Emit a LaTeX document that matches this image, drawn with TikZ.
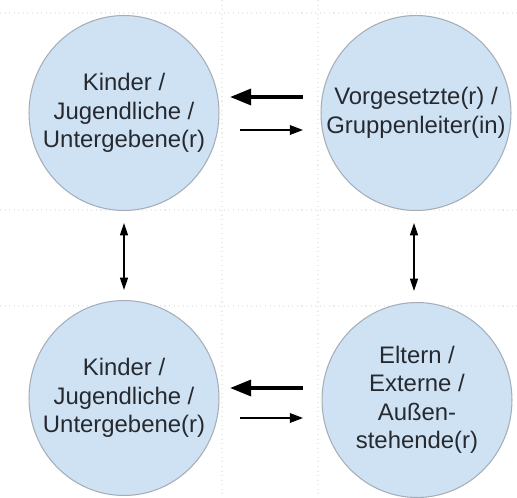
\documentclass[tikz,border=0pt]{standalone}
\usepackage{fontspec}
\setmainfont{Liberation Sans}
\usetikzlibrary{shapes.geometric,arrows.meta}
\definecolor{rolefill}{RGB}{207,226,243}
\definecolor{roleline}{RGB}{165,174,184}
\definecolor{roletext}{RGB}{38,42,48}
\definecolor{gridgray}{RGB}{234,234,234}
\begin{document}
\begin{tikzpicture}[x=0.02cm,y=0.02cm]
\tikzstyle{role}=[ellipse,draw=roleline,fill=rolefill,line width=0.6pt,minimum width=3.8cm,minimum height=3.9cm,inner sep=-0.7cm,align=center,text=roletext,font=\fontsize{13.6}{16.2}\selectfont]
\tikzstyle{strongflow}=[line width=2.2pt,-{Triangle[length=12pt,width=9pt]}]
\tikzstyle{weakflow}=[line width=0.75pt,-{Triangle[length=7.5pt,width=5.5pt]}]
\tikzstyle{link}=[line width=0.75pt,{Triangle[length=7pt,width=4.5pt]}-{Triangle[length=7pt,width=4.5pt]}]
\useasboundingbox (0,0) rectangle (517,-497);
\fill [white] (0,0) rectangle (517,-497);

% faint page grid
\draw [gridgray,dotted,line width=0.6pt] (0,-13) -- (517,-13);
\draw [gridgray,dotted,line width=0.6pt] (0,-210) -- (517,-210);
\draw [gridgray,dotted,line width=0.6pt] (0,-306) -- (517,-306);
\draw [gridgray,dotted,line width=0.6pt] (222,0) -- (222,-497);
\draw [gridgray,dotted,line width=0.6pt] (318,0) -- (318,-497);

\node [role] (kidsTop) at (124,-113) {Kinder /\\Jugendliche /\\Untergebene(r)};
\node [role] (boss) at (416,-113) {Vorgesetzte(r) /\\Gruppenleiter(in)};
\node [role] (kidsBot) at (124,-398) {Kinder /\\Jugendliche /\\Untergebene(r)};
\node [role] (parents) at (417,-400) {Eltern /\\Externe /\\Außen-\\stehende(r)};

\coordinate (bossOut) at (303,-97);
\coordinate (kidsTopIn) at (230,-97);
\coordinate (kidsTopOut) at (240,-130);
\coordinate (bossIn) at (303,-130);
\coordinate (parentsOut) at (303,-388);
\coordinate (kidsBotIn) at (230,-388);
\coordinate (kidsBotOut) at (240,-418);
\coordinate (parentsIn) at (303,-418);
\coordinate (leftUp) at (124,-223);
\coordinate (leftDown) at (124,-290);
\coordinate (rightUp) at (414,-223);
\coordinate (rightDown) at (414,-291);

\draw [strongflow] (bossOut) -- (kidsTopIn);
\draw [weakflow] (kidsTopOut) -- (bossIn);
\draw [strongflow] (parentsOut) -- (kidsBotIn);
\draw [weakflow] (kidsBotOut) -- (parentsIn);
\draw [link] (leftUp) -- (leftDown);
\draw [link] (rightUp) -- (rightDown);
\end{tikzpicture}
\end{document}
